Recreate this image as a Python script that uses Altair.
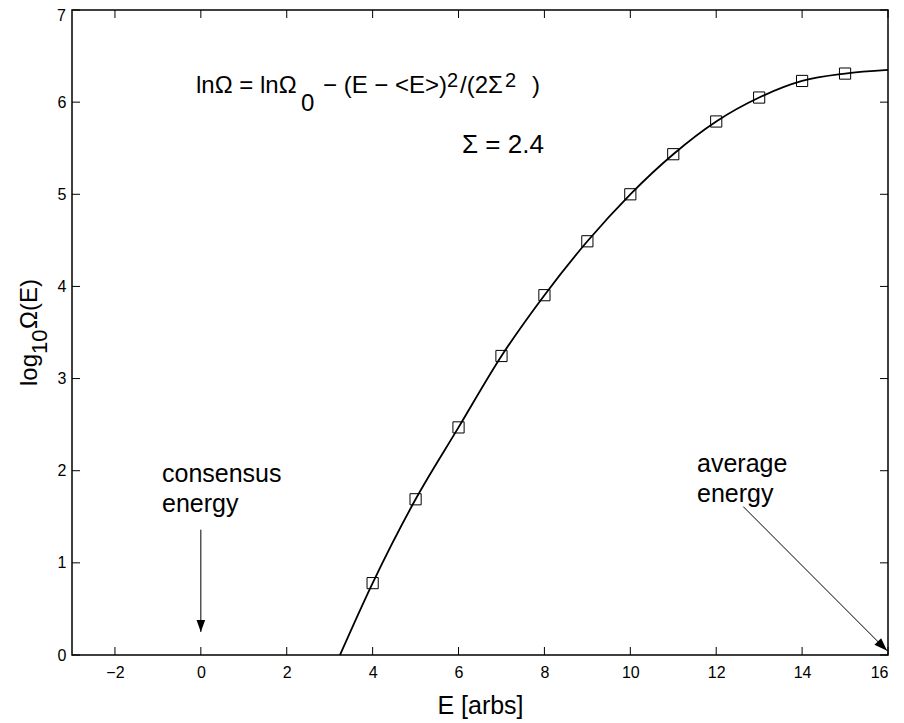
import altair as alt
import pandas as pd

FONT = "Liberation Sans"

# ---- data ----
E_POINTS = [4, 5, 6, 7, 8, 9, 10, 11, 12, 13, 14, 15]
LOGOMEGA_POINTS = [0.78, 1.69, 2.47, 3.245, 3.905, 4.49, 5.0, 5.435, 5.79, 6.05, 6.23, 6.31]

CURVE_E = [3.24, 4, 5, 6, 7, 8, 9, 10, 11, 12, 13, 14, 15, 16]
CURVE_Y = [0.0, 0.78, 1.69, 2.47, 3.245, 3.905, 4.49, 5.0, 5.435, 5.79, 6.05, 6.23, 6.31, 6.35]

X_TICKS = [-2, 0, 2, 4, 6, 8, 10, 12, 14, 16]
Y_TICKS = [0, 1, 2, 3, 4, 5, 6, 7]
Y_LABELLED = [0, 1, 2, 3, 4, 5, 6]
TOP_LABEL = "7"
X_DOMAIN = [-3, 16]
Y_DOMAIN = [0, 7]

# arrows (data units): start and tip
ARROW1_E = [0.0, 0.0]
ARROW1_Y = [1.36, 0.25]
ARROW2_E = [12.63, 15.98]
ARROW2_Y = [1.61, 0.045]

W, H = 816, 645

xs = alt.Scale(domain=X_DOMAIN, nice=False, zero=False)
ys = alt.Scale(domain=Y_DOMAIN, nice=False, zero=False)

pts = pd.DataFrame({"E": E_POINTS, "y": LOGOMEGA_POINTS})
curve = pd.DataFrame({"E": CURVE_E, "y": CURVE_Y})

base_axes = alt.Chart(pts).mark_point(
    shape="square", size=125, filled=False, color="black", strokeWidth=1, opacity=1
).encode(
    x=alt.X("E:Q", scale=xs,
            axis=alt.Axis(values=X_TICKS, tickSize=0, domain=False, grid=False,
                          labelFontSize=16, labelFont=FONT, labelColor="black",
                          labelPadding=9, title="E [arbs]", titleFont=FONT,
                          titleFontSize=25, titleFontWeight="normal",
                          titleColor="black", titlePadding=13)),
    y=alt.Y("y:Q", scale=ys,
            axis=alt.Axis(values=Y_LABELLED, format="d", tickSize=0, domain=False,
                          grid=False, labelFontSize=16, labelFont=FONT,
                          labelColor="black", labelPadding=6, title=None)),
)

line = alt.Chart(curve).mark_line(color="black", strokeWidth=1.8,
                                  interpolate="monotone", clip=True).encode(
    x=alt.X("E:Q", scale=xs), y=alt.Y("y:Q", scale=ys))

# inward ticks on all four sides
xt = pd.DataFrame({"v": X_TICKS})
yt = pd.DataFrame({"v": Y_TICKS})
tick_bottom = alt.Chart(xt).mark_rule(color="black", strokeWidth=1).encode(
    x=alt.X("v:Q", scale=xs), y=alt.value(H), y2=alt.value(H - 8))
tick_top = alt.Chart(xt).mark_rule(color="black", strokeWidth=1).encode(
    x=alt.X("v:Q", scale=xs), y=alt.value(0), y2=alt.value(8))
tick_left = alt.Chart(yt).mark_rule(color="black", strokeWidth=1).encode(
    y=alt.Y("v:Q", scale=ys), x=alt.value(0), x2=alt.value(8))
tick_right = alt.Chart(yt).mark_rule(color="black", strokeWidth=1).encode(
    y=alt.Y("v:Q", scale=ys), x=alt.value(W), x2=alt.value(W - 8))

# arrows
a1 = pd.DataFrame({"E": ARROW1_E, "y": ARROW1_Y, "o": [0, 1]})
a2 = pd.DataFrame({"E": ARROW2_E, "y": ARROW2_Y, "o": [0, 1]})
shaft1 = alt.Chart(a1).mark_line(color="black", strokeWidth=1).encode(
    x=alt.X("E:Q", scale=xs), y=alt.Y("y:Q", scale=ys), order="o:Q")
shaft2 = alt.Chart(a2).mark_line(color="black", strokeWidth=1).encode(
    x=alt.X("E:Q", scale=xs), y=alt.Y("y:Q", scale=ys), order="o:Q")
HEAD = "M0,0L-0.36,-1L0.36,-1Z"
head1 = alt.Chart(a1.iloc[[1]]).mark_point(
    shape=HEAD, size=576, filled=True, color="black", opacity=1, strokeWidth=0
).encode(x=alt.X("E:Q", scale=xs), y=alt.Y("y:Q", scale=ys))
head2 = alt.Chart(a2.iloc[[1]]).mark_point(
    shape=HEAD, size=700, filled=True, color="black", opacity=1, strokeWidth=0, angle=315
).encode(x=alt.X("E:Q", scale=xs), y=alt.Y("y:Q", scale=ys))


def label(txt, x, y, size, angle=0, align="left", baseline="alphabetic"):
    kw = dict(text=txt, align=align, baseline=baseline, fontSize=size,
              font=FONT, color="black")
    if angle:
        kw["angle"] = angle
    return alt.Chart(alt.Data(values=[{}])).mark_text(**kw).encode(
        x=alt.value(x), y=alt.value(y))


texts = [
    label(TOP_LABEL, -6, 11, 16, align="right"),
    label("lnΩ = lnΩ", 124, 83, 24),
    label("0", 229, 101, 24),
    label("− (E − <E>)", 251, 83, 24),
    label("2", 375, 77, 20),
    label("/(2Σ", 388, 83, 24),
    label("2", 433, 77, 20),
    label(")", 460, 83, 24),
    label("Σ = 2.4", 390, 143, 26),
    label("consensus", 90, 472, 25),
    label("energy", 90, 502, 25),
    label("average", 625, 462, 25),
    label("energy", 625, 492, 25),
    # y-axis title with subscript
    label("log", -35, 376, 24, 270),
    label("10", -25, 344, 22, 270),
    label("Ω(E)", -35, 319, 24, 270),
]

chart = alt.layer(
    line, base_axes, tick_bottom, tick_top, tick_left, tick_right,
    shaft1, shaft2, head1, head2, *texts
).properties(
    width=W, height=H,
    autosize=alt.AutoSizeParams(type="none"),
    padding={"left": 64, "top": 2, "right": 8, "bottom": 70},
    background="white",
).configure_view(stroke="black", strokeWidth=1.5)

chart.save("out.html", embed_options={"renderer": "svg", "actions": False})
